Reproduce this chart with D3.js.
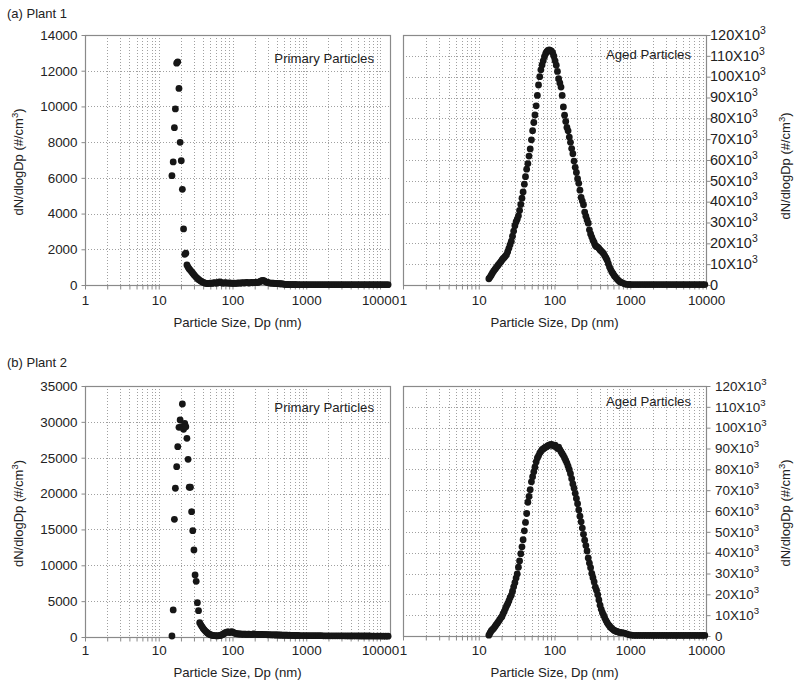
<!DOCTYPE html>
<html><head><meta charset="utf-8">
<script src="https://cdn.jsdelivr.net/npm/d3@7"></script>
<style>
body{margin:0;background:#fff}
svg{display:block}
text{font-family:"Liberation Sans",Arial,Helvetica,sans-serif;fill:#222}
</style>
</head><body>
<svg id="c" width="800" height="688"></svg>
<script>
// ---------- DATA ----------
// particle diameters (nm): SMPS channels then APS channels
const diameters = [
 13.6,14.1,14.6,15.1,15.7,16.3,16.8,17.5,18.1,18.8,
 19.5,20.2,20.9,21.7,22.5,23.3,24.1,25.0,25.9,26.9,
 27.9,28.9,30.0,31.1,32.2,33.4,34.6,35.9,37.2,38.5,
 40.0,41.4,42.9,44.5,46.1,47.8,49.6,51.4,53.3,55.2,
 57.3,59.4,61.5,63.8,66.1,68.5,71.0,73.7,76.4,79.1,
 82.0,85.1,88.2,91.4,94.7,98.2,101.8,105.5,109.4,113.4,
 117.6,121.9,126.3,131.0,135.8,140.7,145.9,151.2,156.8,162.5,
 168.5,174.7,181.1,187.7,194.6,201.7,209.1,216.7,224.7,232.9,
 241.4,250.3,259.5,269.0,278.8,289.0,299.6,310.6,322.0,333.8,
 346.0,358.7,371.8,385.4,399.5,414.2,429.4,445.1,461.4,478.3,
 495.8,514.0,532.8,552.3,572.5,593.5,615.3,637.8,661.2,685.4,
 710.5,736.5,
 777,835,898,965,1037,1114,1197,1286,1382,1486,
 1596,1715,1843,1981,2129,2288,2458,2642,2839,3051,
 3278,3523,3786,4068,4371,4698,5048,5425,5829,6264,
 6732,7234,7774,8354,8977,9647,10366,11139,11970,12862
];

// dN/dlogDp (#/cm3); null = no measurement shown
const plant1Primary = [
 null,null,null,
 6120,6890,8810,9860,12420,12500,11010,7990,6960,5360,
 3140,1720,1780,1120,1000,900,820,740,660,580,
 500,430,370,310,260,220,180,150,120,100,
 90,80,90,110,100,90,120,130,110,100,
 140,170,160,120,100,110,130,120,100,110,
 120,100,90,110,100,90,100,110,120,100,
 110,130,120,110,130,140,120,110,130,140,
 120,130,150,160,140,160,180,210,240,260,
 230,190,160,140,120,110,110,100,100,90,
 90,80,80,70,70,60,60,50,40,30,
 30,25,20,20,20,20,20,
 20,20,
 20,20,20,20,20,20,20,20,20,20,
 20,20,20,20,20,20,20,20,20,20,
 20,20,20,20,20,20,20,20,20,20,
 20,20,20,20,20,20,20,20,20,20
];

const plant1Aged = [
 3000,3800,4700,5700,6600,7400,8100,8900,9600,10400,
 11100,11900,12600,13200,13900,14600,16000,17600,19300,21000,
 23400,25900,28500,30300,31600,33200,35800,38700,41700,44700,
 48400,52000,55600,58300,61900,65300,69700,74100,78000,81600,
 86000,91000,96000,100000,103300,105600,107600,109600,111000,112000,
 112600,112800,112600,112200,111400,109800,107600,105500,102500,99000,
 97000,95000,91000,85500,81500,78500,75600,74000,71000,68500,
 65500,63000,59500,56500,54000,51000,48800,45500,42000,40300,
 38500,35000,33000,31200,29700,26500,24500,23000,21500,20400,
 19000,18400,18200,17600,16800,16300,15700,15000,14000,13000,
 11900,10200,8600,7400,6300,5400,4500,3800,3100,2500,
 1900,1500,
 1100,600,300,250,200,200,200,200,200,200,
 200,200,200,200,200,200,200,200,200,200,
 200,200,200,200,200,200,200,200,200,200,
 200,200,200,200,200,200,200,200,200,200
];

const plant2Primary = [
 null,null,null,
 140,3770,16410,20740,23750,26540,29240,30260,29300,32490,
 28960,29800,29330,27710,24780,20880,20880,17470,14820,12130,
 8650,7770,4780,3670,1990,1700,1450,1200,1000,820,
 660,520,420,340,280,230,200,180,170,160,
 170,190,220,280,350,450,560,650,720,700,
 620,680,740,650,560,510,460,430,420,440,
 400,380,390,410,380,360,380,400,370,350,
 380,420,400,370,360,350,340,360,350,330,
 340,320,330,310,320,300,310,300,290,300,
 280,290,280,270,280,260,270,260,250,260,
 250,240,250,240,230,230,220,
 210,210,
 210,200,200,200,190,190,190,180,180,180,
 180,170,170,170,170,170,160,160,160,160,
 160,150,150,150,150,150,150,140,140,140,
 140,140,130,130,130,130,130,120,120,120
];

const plant2Aged = [
 400,1500,2400,3000,3600,4400,5200,6000,6800,7700,
 8600,9300,10600,11800,13200,14400,15500,16800,18400,19600,
 21500,23600,25600,27800,29800,33000,36000,39500,42800,46200,
 50500,54500,58800,64200,67000,70200,74000,76500,78800,81000,
 83600,85500,86500,87800,88600,89400,89800,90300,90600,90900,
 91400,91600,91800,92000,91600,91200,91600,90800,90000,90600,
 89500,88500,87500,86600,85500,84300,83000,81500,79800,77900,
 75500,73000,71000,68500,66000,63500,60500,57500,54800,51800,
 48800,46000,43400,40800,37500,35000,32800,30000,28000,26000,
 23500,22000,19800,17300,14800,12800,11200,10000,8600,7400,
 6400,5500,4800,4100,3600,3100,2700,2400,2200,2000,
 1800,1700,
 1600,1400,1000,600,400,300,300,300,300,300,
 300,300,300,300,300,300,300,300,300,300,
 300,300,300,300,300,300,300,300,300,300,
 300,300,300,300,300,300,300,300,300,300
];

const xDecadeTicks = [1, 10, 100, 1000, 10000];
const plant1PrimaryTicks = [0, 2000, 4000, 6000, 8000, 10000, 12000, 14000];
const plant2PrimaryTicks = [0, 5000, 10000, 15000, 20000, 25000, 30000, 35000];
const agedTicks = [0, 10000, 20000, 30000, 40000, 50000, 60000, 70000, 80000, 90000, 100000, 110000, 120000];
const rowTitles = ["(a) Plant 1", "(b) Plant 2"];
const panelLabels = ["Primary Particles", "Aged Particles"];
const xTitle = "Particle Size, Dp (nm)";

// ---------- DRAW ----------
const svg = d3.select("#c");
const GRID = "#a0a0a0", FRAME = "#8a8a8a", DOT = "#161616";
const FONT = '"Liberation Sans",Arial,sans-serif';

function ylabel(sel) {
  sel.append("tspan").text("dN/dlogDp (#/cm");
  sel.append("tspan").attr("dy", -5).attr("font-size", "9.5px").text("3");
  sel.append("tspan").attr("dy", 5).text(")");
}

function panel(p) {
  // x: decade 1 sits at p.x0, decade 10000 at p.xTen; axis continues to p.x1
  const x = d3.scaleLog().domain([1, 10000]).range([p.x0, p.xTen]);
  const xMax = x.invert(p.x1);
  x.domain([1, xMax]).range([p.x0, p.x1]);
  const y = d3.scaleLinear().domain([0, p.ticks[p.ticks.length - 1]]).range([p.y1, p.y0]);
  const g = svg.append("g");
  const minor = x.ticks().filter(d => d <= 10000);

  // grid
  g.append("g").selectAll("line").data(minor.filter(d => d > 1 && x(d) < p.x1 - 1)).join("line")
    .attr("x1", d => Math.round(x(d)) + 0.5).attr("x2", d => Math.round(x(d)) + 0.5)
    .attr("y1", p.y0).attr("y2", p.y1)
    .attr("stroke", GRID).attr("stroke-width", 1).attr("stroke-dasharray", "1,2");
  g.append("g").selectAll("line").data(p.ticks.filter(d => d > 0 && d < p.ticks[p.ticks.length - 1])).join("line")
    .attr("x1", p.x0).attr("x2", p.x1)
    .attr("y1", d => Math.round(y(d)) + 0.5).attr("y2", d => Math.round(y(d)) + 0.5)
    .attr("stroke", GRID).attr("stroke-width", 1).attr("stroke-dasharray", "1,2");

  // frame
  g.append("rect").attr("x", p.x0 + 0.5).attr("y", p.y0 + 0.5)
    .attr("width", p.x1 - p.x0).attr("height", p.y1 - p.y0)
    .attr("fill", "none").attr("stroke", FRAME).attr("stroke-width", 1.2);

  // x axis
  const xa = g.append("g").attr("transform", `translate(0,${p.y1 + 0.5})`)
    .call(d3.axisBottom(x).tickValues(minor).tickSize(4).tickPadding(p.xPad)
      .tickFormat(d => xDecadeTicks.includes(d) ? String(d) : ""));
  xa.select(".domain").remove();
  xa.selectAll("line").attr("stroke", FRAME);
  xa.selectAll("text").attr("font-size", "13.4px").attr("fill", "#222").attr("font-family", FONT);

  // y axis
  if (p.side === "left") {
    const ya = g.append("g").attr("transform", `translate(${p.x0 + 0.5},0)`)
      .call(d3.axisLeft(y).tickValues(p.ticks).tickSize(4).tickPadding(4).tickFormat(d3.format("d")));
    ya.select(".domain").remove();
    ya.selectAll("line").attr("stroke", FRAME);
    ya.selectAll("text").attr("font-size", "13.4px").attr("fill", "#222").attr("font-family", FONT);
  } else {
    const ya = g.append("g").attr("transform", `translate(${p.x1 + 0.5},0)`)
      .call(d3.axisRight(y).tickValues(p.ticks).tickSize(4).tickFormat(""));
    ya.select(".domain").remove();
    ya.selectAll("line").attr("stroke", FRAME);
    g.append("g").selectAll("text").data(p.ticks).join("text")
      .attr("x", p.x1 + p.rPad).attr("y", d => y(d) + 4.8)
      .attr("font-size", p.rFont + "px")
      .each(function (d) {
        const t = d3.select(this);
        if (d === 0) { t.text("0"); return; }
        t.append("tspan").text((d / 1000) + "X10");
        t.append("tspan").attr("dy", -6).attr("font-size", (p.rFont * 0.72) + "px").text("3");
      });
  }

  // dots (only those inside the axis range)
  const pts = diameters.map((d, i) => ({ d, v: p.values[i] }))
    .filter(o => o.v != null && o.d <= xMax);
  g.append("g").selectAll("circle").data(pts).join("circle")
    .attr("cx", o => x(o.d)).attr("cy", o => y(o.v)).attr("r", 3.4).attr("fill", DOT);

  // label inside
  g.append("text").attr("x", p.lx).attr("y", p.ly).attr("text-anchor", "end")
    .attr("font-size", "13.2px").text(p.label);

  // x title
  g.append("text").attr("x", (p.x0 + p.x1) / 2).attr("y", p.xty).attr("text-anchor", "middle")
    .attr("font-size", "13.2px").text(xTitle);

  // y title
  const tx = p.side === "left" ? 18 : 785;
  const ty = p.side === "left" ? (p.y0 + p.y1) / 2 + 2 : p.ytc;
  const yt = svg.append("text").attr("transform", `translate(${tx + 4.5},${ty}) rotate(-90)`)
    .attr("text-anchor", "middle").attr("font-size", "13px");
  ylabel(yt);
}

panel({ x0: 85, xTen: 380, x1: 390, y0: 35, y1: 285, values: plant1Primary, ticks: plant1PrimaryTicks, side: "left",
  label: panelLabels[0], lx: 374, ly: 63, xty: 327, xPad: 6 });
panel({ x0: 403, xTen: 706, x1: 706, y0: 35, y1: 285, values: plant1Aged, ticks: agedTicks, side: "right",
  label: panelLabels[1], lx: 691, ly: 59, xty: 327, xPad: 6, rPad: 4, rFont: 14.5, ytc: 166 });
panel({ x0: 85, xTen: 380, x1: 390, y0: 386, y1: 637, values: plant2Primary, ticks: plant2PrimaryTicks, side: "left",
  label: panelLabels[0], lx: 374, ly: 412, xty: 677, xPad: 4 });
panel({ x0: 403, xTen: 706, x1: 706, y0: 386, y1: 636, values: plant2Aged, ticks: agedTicks, side: "right",
  label: panelLabels[1], lx: 691, ly: 406, xty: 677, xPad: 5, rPad: 9, rFont: 13.4, ytc: 513 });

svg.append("text").attr("x", 7).attr("y", 18).attr("font-size", "13px").text(rowTitles[0]);
svg.append("text").attr("x", 7).attr("y", 367).attr("font-size", "13px").text(rowTitles[1]);
</script>
</body></html>
